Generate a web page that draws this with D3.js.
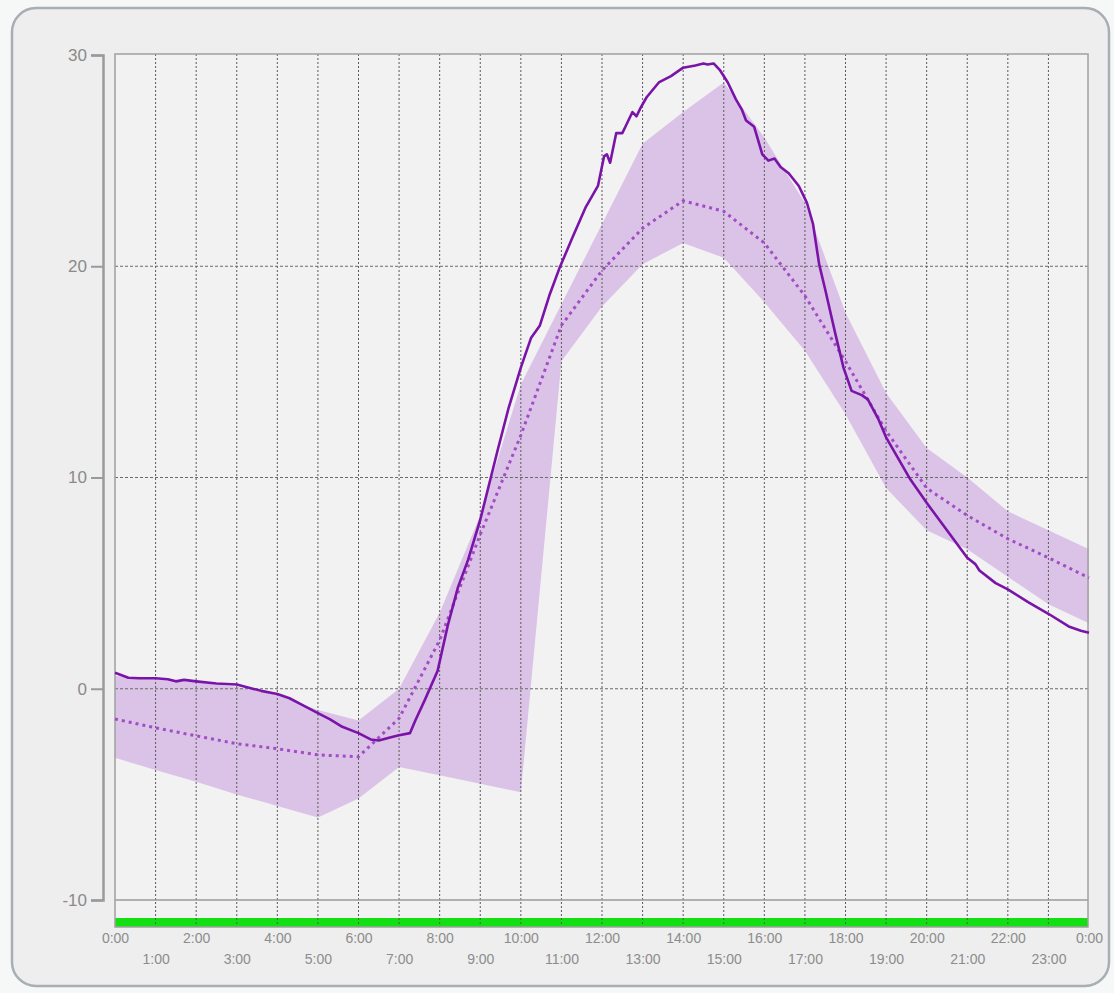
<!DOCTYPE html>
<html>
<head>
<meta charset="utf-8">
<script src="https://cdn.jsdelivr.net/npm/d3@7/dist/d3.min.js"></script>
<style>
  html, body { margin: 0; padding: 0; background: #f6f7f7; }
  svg { display: block; font-family: "Liberation Sans", Arial, sans-serif; }
</style>
</head>
<body>
<svg id="chart" width="1114" height="993"></svg>
<script>
// Hour ticks and labels along the time axis
const hourTicks = d3.range(0, 25);
const yTicks = [-10, 0, 10, 20, 30];

// Measured temperature trace (hours, °C)
const actualHours = [0, 0.33, 0.6, 1.0, 1.3, 1.5, 1.7, 2.0, 2.5, 3.0, 3.3, 3.6, 4.0, 4.3, 4.6, 5.0, 5.3, 5.6, 6.0, 6.3, 6.5, 6.8, 7.0, 7.27,
  7.4, 7.63, 7.95, 8.2, 8.45, 8.7, 9.0, 9.43, 9.7, 10.0, 10.25, 10.47, 10.7, 10.95, 11.28, 11.6, 11.9, 12.05, 12.12, 12.2,
  12.35, 12.5, 12.6, 12.75, 12.85, 12.95, 13.1, 13.4, 13.7, 14.0, 14.3, 14.5, 14.6, 14.75, 14.9, 15.1, 15.3, 15.45, 15.55,
  15.75, 15.95, 16.1, 16.25, 16.4, 16.6, 16.85, 17.05, 17.2, 17.35, 17.5, 17.75, 17.95, 18.15, 18.4, 18.55, 18.8, 19.0,
  19.33, 19.6, 20.0, 20.5, 21.0, 21.2, 21.3, 21.7, 22.0, 22.5, 23.0, 23.5, 23.8, 24.0];
const actualTemps = [0.76, 0.52, 0.5, 0.5, 0.45, 0.35, 0.42, 0.35, 0.25, 0.2, 0.05, -0.1, -0.25, -0.45, -0.75, -1.15, -1.45, -1.8, -2.1, -2.4, -2.45, -2.3, -2.2, -2.1,
  -1.5, -0.55, 0.85, 3.0, 4.8, 6.1, 8.0, 11.3, 13.3, 15.2, 16.6, 17.2, 18.6, 19.9, 21.4, 22.8, 23.8, 25.2, 25.3, 24.9,
  26.3, 26.3, 26.7, 27.3, 27.1, 27.5, 28.0, 28.7, 29.0, 29.4, 29.5, 29.6, 29.55, 29.6, 29.3, 28.7, 27.9, 27.4, 26.9,
  26.6, 25.3, 25.0, 25.1, 24.7, 24.4, 23.8, 23.0, 22.0, 20.1, 18.9, 16.8, 15.2, 14.1, 13.9, 13.7, 12.8, 11.9,
  10.8, 9.9, 8.8, 7.5, 6.2, 5.9, 5.6, 5.0, 4.7, 4.1, 3.55, 2.95, 2.75, 2.65];

// Hourly mean and min/max envelope (°C)
const meanTemps = [-1.43, -1.85, -2.23, -2.6, -2.84, -3.13, -3.22, -1.4, 2.3, 7.3, 12.0, 17.2, 19.8, 21.8, 23.1, 22.6,
  21.1, 18.6, 15.5, 12.2, 9.5, 8.2, 7.1, 6.2, 5.25];
const bandLow = [-3.27, -3.85, -4.4, -5.0, -5.55, -6.1, -5.2, -3.7, -4.1, -4.5, -4.9, 15.5, 18.1, 20.1, 21.1, 20.4,
  18.3, 16.0, 13.0, 9.5, 7.5, 6.6, 5.3, 4.0, 3.1];
const bandHigh = [0.6, 0.45, 0.3, 0.1, -0.3, -1.0, -1.5, 0.0, 3.6, 8.2, 14.4, 18.2, 22.0, 25.8, 27.3, 28.7,
  26.1, 23.0, 17.8, 14.0, 11.4, 10.0, 8.4, 7.5, 6.6];

const svg = d3.select("#chart");

const plot = { left: 115, right: 1088, top: 54, bottom: 927 };
const x = d3.scaleLinear().domain([0, 24]).range([plot.left, 1089]);
const y = d3.scaleLinear().domain([-10, 30]).range([900, 55]);

// outer rounded panel
svg.append("rect")
  .attr("x", 12).attr("y", 8).attr("width", 1097).attr("height", 978)
  .attr("rx", 24).attr("ry", 24)
  .attr("fill", "#eeeeee").attr("stroke", "#a7afb3").attr("stroke-width", 2.5);

// plot area
svg.append("rect")
  .attr("x", plot.left).attr("y", plot.top)
  .attr("width", plot.right - plot.left).attr("height", plot.bottom - plot.top)
  .attr("fill", "#f2f2f2");

// min/max envelope
const band = d3.area()
  .x((d, i) => x(hourTicks[i]))
  .y0((d, i) => y(bandLow[i]))
  .y1((d, i) => y(bandHigh[i]));
svg.append("path")
  .datum(bandLow)
  .attr("d", band)
  .attr("fill", "rgb(178,112,212)")
  .attr("fill-opacity", 0.36);

// status bar along the bottom
svg.append("rect")
  .attr("x", plot.left).attr("y", 918)
  .attr("width", plot.right - plot.left).attr("height", 9)
  .attr("fill", "#12e012");

// vertical hour grid
svg.append("g").selectAll("line")
  .data(hourTicks.slice(1, 24))
  .join("line")
  .attr("x1", d => x(d)).attr("x2", d => x(d))
  .attr("y1", plot.top).attr("y2", plot.bottom)
  .attr("stroke", "#5a5a5a").attr("stroke-width", 1)
  .attr("stroke-dasharray", "2,2");

// horizontal grid
svg.append("g").selectAll("line")
  .data([0, 10, 20])
  .join("line")
  .attr("x1", plot.left).attr("x2", plot.right)
  .attr("y1", d => y(d)).attr("y2", d => y(d))
  .attr("stroke", "#6a6a6a").attr("stroke-width", 1)
  .attr("stroke-dasharray", "3,2");

svg.append("line")
  .attr("x1", plot.left).attr("x2", plot.right)
  .attr("y1", y(-10)).attr("y2", y(-10))
  .attr("stroke", "#9a9a9a").attr("stroke-width", 1.5);

// plot border
svg.append("rect")
  .attr("x", plot.left).attr("y", plot.top)
  .attr("width", plot.right - plot.left).attr("height", plot.bottom - plot.top)
  .attr("fill", "none").attr("stroke", "#a0a0a0").attr("stroke-width", 1.5);

// mean (dotted)
const meanLine = d3.line()
  .x((d, i) => x(hourTicks[i]))
  .y(d => y(d));
svg.append("path")
  .datum(meanTemps)
  .attr("d", meanLine)
  .attr("fill", "none")
  .attr("stroke", "#a24cc6")
  .attr("stroke-width", 3)
  .attr("stroke-dasharray", "3,4");

// measured trace
const actualLine = d3.line()
  .x((d, i) => x(actualHours[i]))
  .y(d => y(d));
svg.append("path")
  .datum(actualTemps)
  .attr("d", actualLine)
  .attr("fill", "none")
  .attr("stroke", "#7a14a8")
  .attr("stroke-width", 2.6)
  .attr("stroke-linejoin", "round");

// y axis
const yAxis = d3.axisLeft(y).tickValues(yTicks).tickSize(12).tickPadding(4)
  .tickFormat(d => String(d));
const gy = svg.append("g").attr("transform", "translate(103,0)").call(yAxis);
gy.select(".domain").attr("stroke", "#9a9a9a").attr("stroke-width", 2.5);
gy.selectAll(".tick line").attr("stroke", "#9a9a9a").attr("stroke-width", 2);
gy.selectAll(".tick text").attr("fill", "#8a8a8a").style("font-size", "17px");

// x axis: even hours on the first row, odd hours below
const xAxis = d3.axisBottom(x).tickValues(hourTicks).tickSize(0).tickPadding(0)
  .tickFormat(h => (h % 24) + ":00");
const gx = svg.append("g").attr("transform", "translate(0," + plot.bottom + ")").call(xAxis);
gx.select(".domain").remove();
gx.selectAll(".tick text")
  .attr("fill", "#8c8c8c")
  .style("font-size", "14px")
  .attr("y", d => d % 2 === 0 ? 6 : 27);
</script>
</body>
</html>
